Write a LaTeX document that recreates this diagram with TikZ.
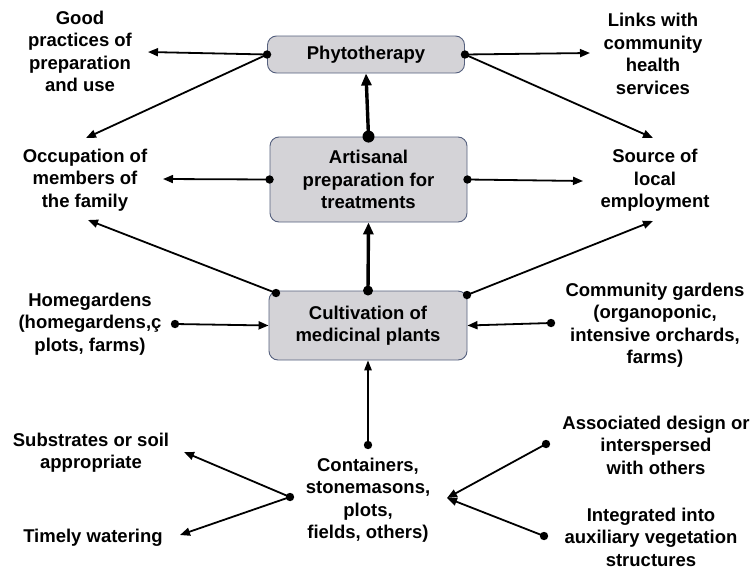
\documentclass[tikz,border=0pt]{standalone}
\usepackage{fontspec}
\setmainfont{Liberation Sans}
\usetikzlibrary{arrows.meta}
\definecolor{boxfill}{HTML}{D4D3D7}
\definecolor{boxedge}{HTML}{55607E}
\begin{document}
\begin{tikzpicture}[x=1pt,y=-1pt,
  every node/.style={font=\bfseries\fontsize{18.5}{22.5}\selectfont, align=center, inner sep=0pt},
  box/.style={draw=boxedge, fill=boxfill, rounded corners=9pt, line width=0.9pt},
  conn/.style={line width=1.8pt, -{Triangle[length=10pt,width=8pt]}},
  thin conn/.style={line width=1.3pt, -{Triangle[length=10pt,width=7.5pt]}},
  thick conn/.style={line width=3.4pt, -{Triangle[length=12pt,width=10pt]}}
]
\useasboundingbox (0,0) rectangle (751,570);

% central chain of boxes
\node[box, minimum width=197pt, minimum height=37pt] (phyto) at (366,54.5) {Phytotherapy};
\node[box, minimum width=197pt, minimum height=85pt] (art) at (368.5,179.5) {Artisanal\\preparation for\\treatments};
\node[box, minimum width=198pt, minimum height=69pt] (cult) at (368,325.5) {Cultivation of\\medicinal plants};

% surrounding labels
\node (good) at (80,51.5) {Good\\practices of\\preparation\\and use};
\node (links) at (653,54) {Links with\\community\\health\\services};
\node (occ) at (85,180) {Occupation of\\members of\\the family};
\node (src) at (655,180.5) {Source of\\local\\employment};
\node (home) at (90,324) {Homegardens\\(homegardens,ç\\plots, farms)};
\node (comm) at (655,325) {Community gardens\\(organoponic,\\intensive orchards,\\farms)};
\node (cont) at (368,500) {Containers,\\stonemasons,\\plots,\\fields, others)};
\node (subs) at (91,452.5) {Substrates or soil\\appropriate};
\node (water) at (93,538) {Timely watering};
\node (assoc) at (656,445) {Associated design or\\interspersed\\with others};
\node (integ) at (651,537) {Integrated into\\auxiliary vegetation\\structures};

% connector end points
\coordinate (goodE) at (148,52);
\coordinate (occNE) at (86,138);
\coordinate (occE) at (163,179);
\coordinate (occSE) at (88,220);
\coordinate (linksW) at (590,53);
\coordinate (srcN) at (653,138);
\coordinate (srcW) at (583,181);
\coordinate (srcSW) at (653,221);
\coordinate (homeE) at (175,324);
\coordinate (commW) at (551,323);
\coordinate (cultNW) at (276,293);
\coordinate (cultNE) at (467,295);
\coordinate (contN) at (368,445);
\coordinate (contW) at (290,497);
\coordinate (contE) at (447,498);
\coordinate (subsE) at (184,452);
\coordinate (waterE) at (180,535);
\coordinate (assocW) at (546,444);
\coordinate (integW) at (544,536);

% connectors
\draw[conn] (phyto.west) -- (goodE);
\draw[conn] (phyto.west) -- (occNE);
\draw[conn] (phyto.east) -- (linksW);
\draw[conn] (phyto.east) -- (srcN);
\draw[thick conn] (art.north) -- (phyto.south);
\draw[conn] (art.west) -- (occE);
\draw[conn] (art.east) -- (srcW);
\draw[thick conn] (cult.north) -- (art.south);
\draw[conn] (cultNW) -- (occSE);
\draw[conn] (cultNE) -- (srcSW);
\draw[conn] (homeE) -- (cult.west);
\draw[conn] (commW) -- (cult.east);
\draw[thin conn] (contN) -- (cult.south);
\draw[conn] (contW) -- (subsE);
\draw[conn] (contW) -- (waterE);
\draw[conn] (assocW) -- (contE);
\draw[conn] (integW) -- (contE);

% connector origin dots
\foreach \p in {phyto.west, phyto.east, art.west, art.east, cultNW, cultNE, homeE, commW, contN, contW, assocW, integW}
  \fill (\p) circle (4.2pt);
\fill (art.north) circle (6pt);
\fill (cult.north) circle (5pt);
\end{tikzpicture}
\end{document}
